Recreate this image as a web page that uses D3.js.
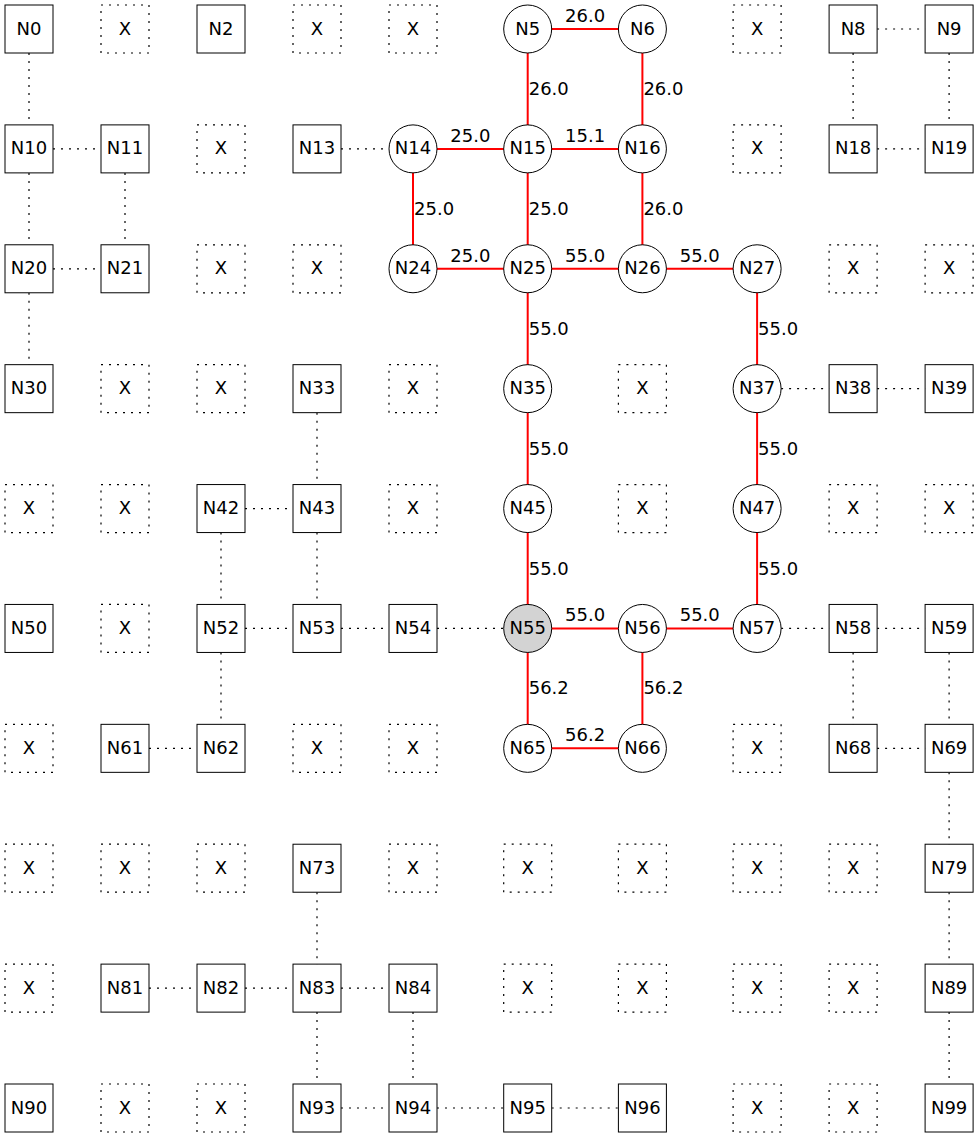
<!DOCTYPE html>
<html>
<head>
<meta charset="utf-8">
<script src="https://cdn.jsdelivr.net/npm/d3@7"></script>
<style>
  body { margin: 0; background: #fff; }
  text { font-family: "DejaVu Sans", sans-serif; font-size: 18px; fill: #000; }
</style>
</head>
<body>
<script>
// grid of cells, "X" = blocked cell
var grid = [
  ["N0","X","N2","X","X","N5","N6","X","N8","N9"],
  ["N10","N11","X","N13","N14","N15","N16","X","N18","N19"],
  ["N20","N21","X","X","N24","N25","N26","N27","X","X"],
  ["N30","X","X","N33","X","N35","X","N37","N38","N39"],
  ["X","X","N42","N43","X","N45","X","N47","X","X"],
  ["N50","X","N52","N53","N54","N55","N56","N57","N58","N59"],
  ["X","N61","N62","X","X","N65","N66","X","N68","N69"],
  ["X","X","X","N73","X","X","X","X","X","N79"],
  ["X","N81","N82","N83","N84","X","X","X","X","N89"],
  ["N90","X","X","N93","N94","N95","N96","X","X","N99"]
];

var pathNodes = ["N5","N6","N14","N15","N16","N24","N25","N26","N27","N35","N37",
                 "N45","N47","N55","N56","N57","N65","N66"];
var startNode = "N55";

var dottedEdges = [
  ["N0","N10"],["N8","N9"],["N8","N18"],["N9","N19"],["N10","N11"],["N13","N14"],
  ["N18","N19"],["N10","N20"],["N11","N21"],["N20","N21"],["N20","N30"],
  ["N37","N38"],["N38","N39"],["N33","N43"],["N42","N43"],["N42","N52"],["N43","N53"],
  ["N52","N53"],["N53","N54"],["N54","N55"],["N57","N58"],["N58","N59"],
  ["N52","N62"],["N58","N68"],["N59","N69"],["N61","N62"],["N68","N69"],["N69","N79"],
  ["N73","N83"],["N79","N89"],["N81","N82"],["N82","N83"],["N83","N84"],
  ["N83","N93"],["N84","N94"],["N89","N99"],["N93","N94"],["N94","N95"],["N95","N96"]
];

// [source, target, weight]
var redEdges = [
  ["N5","N6",26.0],["N5","N15",26.0],["N6","N16",26.0],
  ["N14","N15",25.0],["N15","N16",15.1],
  ["N14","N24",25.0],["N15","N25",25.0],["N16","N26",26.0],
  ["N24","N25",25.0],["N25","N26",55.0],["N26","N27",55.0],
  ["N25","N35",55.0],["N27","N37",55.0],
  ["N35","N45",55.0],["N37","N47",55.0],
  ["N45","N55",55.0],["N47","N57",55.0],
  ["N55","N56",55.0],["N56","N57",55.0],
  ["N55","N65",56.2],["N56","N66",56.2],["N65","N66",56.2]
];

var W = 979, H = 1139;
var svg = d3.select("body").append("svg").attr("width", W).attr("height", H);

function rc(name) { var n = +name.slice(1); return [Math.floor(n / 10), n % 10]; }

// columns get wider where a labelled edge runs horizontally
var colX = [29];
for (var c = 0; c < 9; c++) {
  var labelled = redEdges.some(function(e) {
    var a = rc(e[0]), b = rc(e[1]);
    return a[0] === b[0] && Math.min(a[1], b[1]) === c;
  });
  colX.push(colX[c] + (labelled ? 114.7 : 96));
}
var x = d3.scaleOrdinal().domain(d3.range(10)).range(colX);
var y = d3.scaleLinear().domain([0, 9]).range([29, 1108]);

function px(name) { return x(rc(name)[1]); }
function py(name) { return y(rc(name)[0]); }

var dots = "2,6";

svg.selectAll("line.dot").data(dottedEdges).enter().append("line")
  .attr("class", "dot")
  .attr("x1", function(d) { return px(d[0]); }).attr("y1", function(d) { return py(d[0]); })
  .attr("x2", function(d) { return px(d[1]); }).attr("y2", function(d) { return py(d[1]); })
  .attr("stroke", "#000").attr("stroke-width", 1.2).attr("stroke-dasharray", dots);

svg.selectAll("line.red").data(redEdges).enter().append("line")
  .attr("class", "red")
  .attr("x1", function(d) { return px(d[0]); }).attr("y1", function(d) { return py(d[0]); })
  .attr("x2", function(d) { return px(d[1]); }).attr("y2", function(d) { return py(d[1]); })
  .attr("stroke", "#ff0000").attr("stroke-width", 2);

// edge weights
svg.selectAll("text.w").data(redEdges).enter().append("text")
  .attr("class", "w")
  .attr("x", function(d) {
    var mx = (px(d[0]) + px(d[1])) / 2;
    return py(d[0]) === py(d[1]) ? mx : mx + 1;
  })
  .attr("y", function(d) {
    var my = (py(d[0]) + py(d[1])) / 2;
    return py(d[0]) === py(d[1]) ? my - 7 : my + 6;
  })
  .attr("text-anchor", function(d) { return py(d[0]) === py(d[1]) ? "middle" : "start"; })
  .text(function(d) { return d[2].toFixed(1); });

var cells = [];
grid.forEach(function(row, r) {
  row.forEach(function(label, c) { cells.push({ r: r, c: c, label: label }); });
});

var node = svg.selectAll("g.node").data(cells).enter().append("g")
  .attr("class", "node")
  .attr("transform", function(d) { return "translate(" + x(d.c) + "," + y(d.r) + ")"; });

node.each(function(d) {
  var g = d3.select(this);
  if (pathNodes.indexOf(d.label) >= 0) {
    g.append("circle").attr("r", 24)
      .attr("fill", d.label === startNode ? "#d3d3d3" : "#fff")
      .attr("stroke", "#000").attr("stroke-width", 1);
  } else {
    g.append("rect").attr("x", -24).attr("y", -24).attr("width", 48).attr("height", 48)
      .attr("fill", "#fff").attr("stroke", "#000")
      .attr("stroke-width", d.label === "X" ? 1.2 : 1)
      .attr("stroke-dasharray", d.label === "X" ? dots : null);
  }
  g.append("text").attr("text-anchor", "middle").attr("y", 5.5).text(d.label);
});
</script>
</body>
</html>
